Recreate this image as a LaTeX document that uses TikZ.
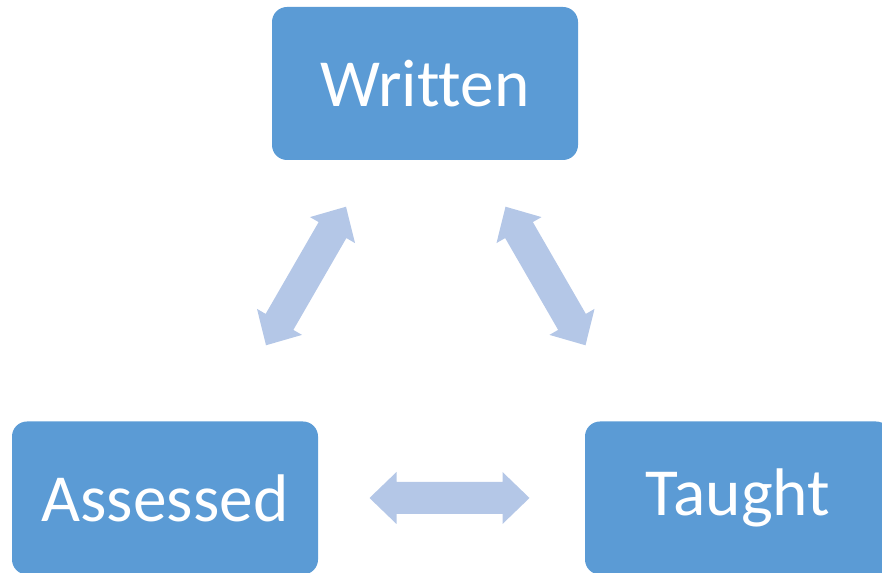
\documentclass[tikz,border=0pt]{standalone}
\usepackage{fontspec}
\setmainfont{Carlito}[Ligatures=NoCommon]
\usepackage{xcolor}
\usepackage{tikz}

\definecolor{boxblue}{HTML}{5B9BD5}
\definecolor{arrowblue}{HTML}{B4C7E7}

\tikzset{
  stage/.style={fill=boxblue, rounded corners=11.25pt, minimum width=229.5pt,
    minimum height=114.75pt, text=white, font=\fontsize{50.5}{58}\selectfont},
  dblarrow/.pic={
    \fill[arrowblue] (-80,0) -- (-53,26) -- (-53,16) -- (53,16) -- (53,26)
      -- (80,0) -- (53,-26) -- (53,-16) -- (-53,-16) -- (-53,-26) -- cycle;
  }
}

\begin{document}
\begin{tikzpicture}[x=0.75pt,y=0.75pt]
            \clip (0,0) rectangle (882,573);
            \node [stage] (written) at (425,489.5) {Written};
            \node [stage] (assessed) at (165,75) {Assessed};
            \node [stage] (taught) at (738,75) {Taught};
            \coordinate (wa) at (306,297);
            \coordinate (wt) at (545.5,297);
            \coordinate (at) at (449.5,75);
            \path (wa) pic [rotate=60] {dblarrow};
            \path (wt) pic [rotate=-60] {dblarrow};
            \path (at) pic {dblarrow};
        \end{tikzpicture}
\end{document}
